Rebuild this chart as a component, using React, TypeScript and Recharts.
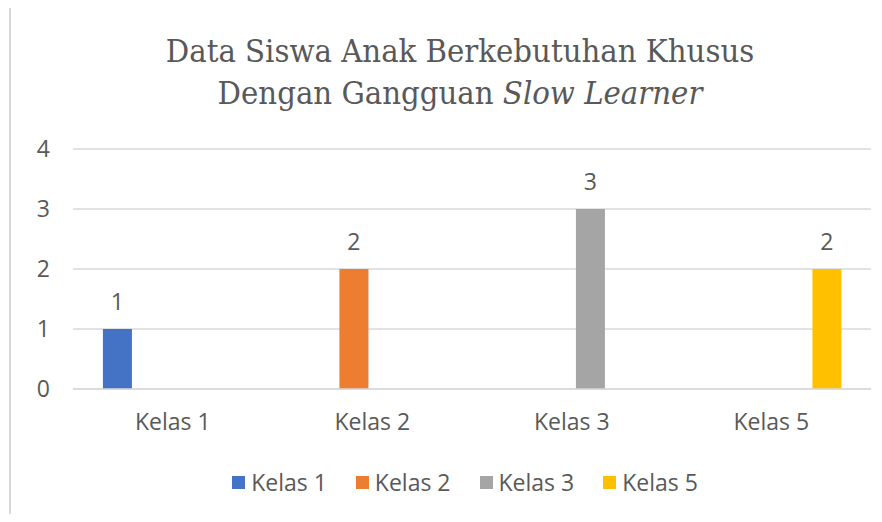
import { BarChart, Bar, XAxis, YAxis, CartesianGrid, LabelList } from 'recharts';

const categories = ['Kelas 1', 'Kelas 2', 'Kelas 3', 'Kelas 5'];
const seriesNames = ['Kelas 1', 'Kelas 2', 'Kelas 3', 'Kelas 5'];
const seriesColors = ['#4472C4', '#ED7D31', '#A5A5A5', '#FFC000'];
// one value per series, only in its own category
const seriesValues = [1, 2, 3, 2];
const yTicks = [0, 1, 2, 3, 4];

const data = categories.map((cat, i) => {
    const row: Record<string, string | number | null> = { name: cat };
    seriesNames.forEach((_, j) => {
        row[`s${j}`] = i === j ? seriesValues[j] : null;
    });
    return row;
});

const textColor = '#595959';
const gridColor = '#D9D9D9';
const sansFont = '"Open Sans", "Liberation Sans", sans-serif';
const fs = 23;

export default function App() {
    return (
        <div style={{ position: 'relative', width: 882, height: 522, margin: -8, background: '#fff', overflow: 'hidden' }}>
            <div
                style={{
                    position: 'absolute',
                    left: 9,
                    top: 6,
                    width: 1000,
                    height: 1000,
                    borderTop: `2px solid ${gridColor}`,
                    borderLeft: `2px solid ${gridColor}`,
                }}
            />
            <div
                style={{
                    position: 'absolute',
                    left: 0,
                    top: 30,
                    width: 920,
                    textAlign: 'center',
                    fontFamily: '"DejaVu Serif Condensed", "DejaVu Serif", serif',
                    fontStretch: 'condensed',
                    fontSize: 32.5,
                    lineHeight: '42px',
                    color: textColor,
                }}
            >
                Data Siswa Anak Berkebutuhan Khusus
                <br />
                Dengan Gangguan <i>Slow Learner</i>
            </div>
            <div style={{ position: 'absolute', top: 0, left: 0 }}>
                <BarChart
                    width={882}
                    height={522}
                    data={data}
                    margin={{ top: 149, right: 11, left: 0, bottom: 0 }}
                    barCategoryGap="15%"
                    barGap={8}
                >
                    <CartesianGrid horizontal={true} vertical={false} stroke={gridColor} strokeWidth={1.5} />
                    <XAxis
                        dataKey="name"
                        height={133}
                        axisLine={{ stroke: gridColor, strokeWidth: 1.5 }}
                        tickLine={false}
                        tickMargin={19}
                        tick={{ fill: textColor, fontSize: fs, fontFamily: sansFont }}
                    />
                    <YAxis
                        width={73}
                        domain={[0, 4]}
                        ticks={yTicks}
                        axisLine={false}
                        tickLine={false}
                        tickMargin={17}
                        tick={{ fill: textColor, fontSize: fs, fontFamily: sansFont }}
                    />
                    {seriesNames.map((s, j) => (
                        <Bar key={s} dataKey={`s${j}`} name={s} fill={seriesColors[j]} isAnimationActive={false}>
                            <LabelList
                                dataKey={`s${j}`}
                                position="top"
                                offset={19}
                                fill={textColor}
                                fontSize={fs}
                                fontFamily={sansFont}
                            />
                        </Bar>
                    ))}
                </BarChart>
            </div>
            <div
                style={{
                    position: 'absolute',
                    left: 0,
                    top: 467,
                    width: 930,
                    display: 'flex',
                    justifyContent: 'center',
                    gap: 29,
                    fontFamily: sansFont,
                    fontSize: fs,
                    color: textColor,
                    lineHeight: '30px',
                }}
            >
                {seriesNames.map((s, j) => (
                    <div key={s} style={{ display: 'flex', alignItems: 'center' }}>
                        <span style={{ display: 'inline-block', width: 13, height: 13, background: seriesColors[j], marginRight: 6 }} />
                        <span>{s}</span>
                    </div>
                ))}
            </div>
        </div>
    );
}
